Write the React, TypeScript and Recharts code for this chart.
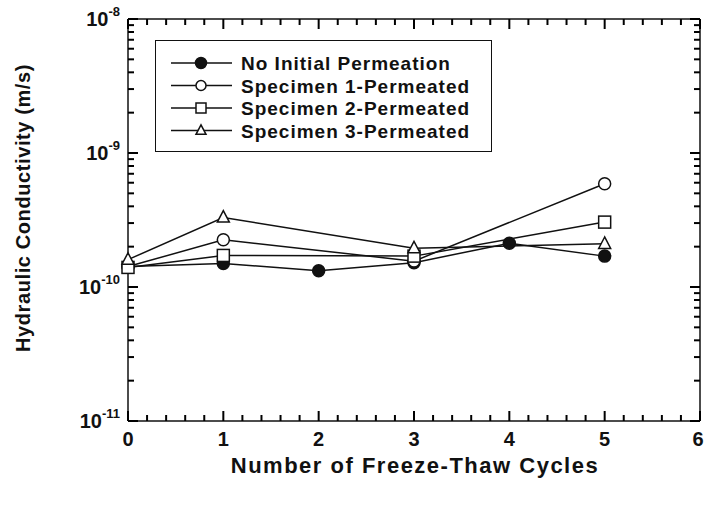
import React from 'react';
import { LineChart, Line, XAxis, YAxis, Label } from 'recharts';

const cycles = [0, 1, 2, 3, 4, 5];
const noInitial = [1.42e-10, 1.5e-10, 1.32e-10, 1.52e-10, 2.12e-10, 1.7e-10];
const specimen1 = [1.42e-10, 2.25e-10, null, 1.56e-10, null, 5.9e-10];
const specimen2 = [1.4e-10, 1.72e-10, null, 1.7e-10, null, 3.05e-10];
const specimen3 = [1.6e-10, 3.3e-10, null, 1.95e-10, null, 2.1e-10];

const seriesNames = [
  'No Initial Permeation',
  'Specimen 1-Permeated',
  'Specimen 2-Permeated',
  'Specimen 3-Permeated',
];
const seriesKeys = ['none', 's1', 's2', 's3'];
const markerKinds = ['filled', 'circle', 'square', 'triangle'];

const xTicks = [0, 1, 2, 3, 4, 5, 6];
const yTicks = [1e-11, 1e-10, 1e-9, 1e-8];

// tick marks: majors + minors (0.2 steps on x, 2..9 per decade on y)
const xAllTicks: number[] = [];
for (let i = 0; i <= 30; i++) xAllTicks.push(i / 5);
const yAllTicks: number[] = [...yTicks];
for (const d of [-11, -10, -9]) for (let m = 2; m <= 9; m++) yAllTicks.push(m * Math.pow(10, d));
yAllTicks.sort((a, b) => a - b);

const data = cycles.map((c, i) => ({
  cycle: c,
  none: noInitial[i],
  s1: specimen1[i],
  s2: specimen2[i],
  s3: specimen3[i],
}));

const FONT = '"Liberation Sans", Arial, Helvetica, sans-serif';
const INK = '#111';
const MAJOR = 10;
const MINOR = 6;

const isMajorX = (v: number) => Math.abs(v - Math.round(v)) < 1e-6;
const isMajorY = (v: number) => yTicks.some((t) => Math.abs(v / t - 1) < 1e-6);

function Marker({ kind, cx, cy, size }: { kind: string; cx: number; cy: number; size: number }) {
  const r = size / 2;
  if (kind === 'filled') return <circle cx={cx} cy={cy} r={r} fill={INK} stroke={INK} strokeWidth={1.5} />;
  if (kind === 'circle') return <circle cx={cx} cy={cy} r={r} fill="#fff" stroke={INK} strokeWidth={1.5} />;
  if (kind === 'square')
    return <rect x={cx - r} y={cy - r} width={size} height={size} fill="#fff" stroke={INK} strokeWidth={1.5} />;
  const h = size * 0.95;
  return (
    <polygon
      points={`${cx},${cy - h * 0.6} ${cx - r},${cy + h * 0.4} ${cx + r},${cy + h * 0.4}`}
      fill="#fff"
      stroke={INK}
      strokeWidth={1.5}
    />
  );
}

function makeDot(kind: string) {
  return (props: any) => {
    const { cx, cy, index } = props;
    if (cx == null || cy == null || props.value == null) return <g key={`e${index}`} />;
    return (
      <g key={`d${index}`}>
        <Marker kind={kind} cx={cx} cy={cy} size={12} />
      </g>
    );
  };
}

// tick marks point into the plot; labels only on majors of the bottom / left axes
function BottomTick(props: any) {
  const { x, y, payload } = props;
  const major = isMajorX(payload.value);
  const last = payload.value === 6;
  return (
    <g>
      <line x1={x} x2={x} y1={y} y2={y - (major ? MAJOR : MINOR)} stroke="#000" strokeWidth={2} />
      {major && (
        <text
          x={last ? x - 2 : x}
          y={y + 25}
          textAnchor="middle"
          fontFamily={FONT}
          fontSize={20}
          fontWeight="bold"
          fill={INK}
        >
          {payload.value}
        </text>
      )}
    </g>
  );
}

function TopTick(props: any) {
  const { x, y, payload } = props;
  const major = isMajorX(payload.value);
  return <line x1={x} x2={x} y1={y} y2={y + (major ? MAJOR : MINOR)} stroke="#000" strokeWidth={2} />;
}

function LeftTick(props: any) {
  const { x, y, payload } = props;
  const major = isMajorY(payload.value);
  const exp = Math.round(Math.log10(payload.value));
  return (
    <g>
      <line x1={x} x2={x + (major ? MAJOR : MINOR)} y1={y} y2={y} stroke="#000" strokeWidth={2} />
      {major && (
        <text x={x - 8} y={y + 7} textAnchor="end" fontFamily={FONT} fontSize={20} fontWeight="bold" fill={INK}>
          10
          <tspan dy={-10} fontSize={13}>
            {exp}
          </tspan>
        </text>
      )}
    </g>
  );
}

function RightTick(props: any) {
  const { x, y, payload } = props;
  const major = isMajorY(payload.value);
  return <line x1={x} x2={x - (major ? MAJOR : MINOR)} y1={y} y2={y} stroke="#000" strokeWidth={2} />;
}

function Legendbox() {
  return (
    <div
      style={{
        position: 'absolute',
        left: 155,
        top: 40,
        width: 337,
        height: 112,
        border: `1.5px solid ${INK}`,
        background: '#fff',
        boxSizing: 'border-box',
      }}
    >
      <svg width={337} height={112}>
        {seriesNames.map((name, i) => {
          const cy = 22 + i * 22.5;
          return (
            <g key={name}>
              <line x1={15} x2={76} y1={cy} y2={cy} stroke={INK} strokeWidth={1.5} />
              <Marker kind={markerKinds[i]} cx={45} cy={cy} size={i === 0 ? 11 : 10} />
              <text
                x={85}
                y={cy + 7}
                fontFamily={FONT}
                fontSize={19}
                fontWeight="bold"
                letterSpacing={1}
                fill={INK}
              >
                {name}
              </text>
            </g>
          );
        })}
      </svg>
    </div>
  );
}

export default function App() {
  const common = {
    type: 'number' as const,
    tickSize: 0,
    tickMargin: 0,
    tickLine: false,
    interval: 0 as const,
  };
  const xProps = { ...common, domain: [0, 6], dataKey: 'cycle', ticks: xAllTicks };
  const yProps = { ...common, domain: [1e-11, 1e-8], scale: 'log' as const, allowDataOverflow: true, ticks: yAllTicks };
  const frame = { stroke: INK, strokeWidth: 1.5 };
  return (
    <div style={{ position: 'absolute', left: 0, top: 0, width: 704, height: 507, background: '#fff' }}>
      <LineChart width={704} height={507} data={data} margin={{ top: 19, right: 4, bottom: 0, left: 0 }}>
        <XAxis {...xProps} xAxisId="x" orientation="bottom" tick={<BottomTick />} axisLine={frame} height={86}>
          <Label
            content={() => (
              <text
                x={415}
                y={473}
                textAnchor="middle"
                fontFamily={FONT}
                fontSize={22}
                fontWeight="bold"
                letterSpacing={1.5}
                fill={INK}
              >
                Number of Freeze-Thaw Cycles
              </text>
            )}
          />
        </XAxis>
        <XAxis {...xProps} xAxisId="xt" orientation="top" mirror tick={<TopTick />} axisLine={frame} height={1} />
        <YAxis {...yProps} yAxisId="y" orientation="left" tick={<LeftTick />} axisLine={frame} width={128}>
          <Label
            content={() => (
              <text
                x={0}
                y={0}
                transform="translate(30 208) rotate(-90)"
                textAnchor="middle"
                fontFamily={FONT}
                fontSize={20}
                fontWeight="bold"
                letterSpacing={0.6}
                fill={INK}
              >
                Hydraulic Conductivity (m/s)
              </text>
            )}
          />
        </YAxis>
        <YAxis {...yProps} yAxisId="yr" orientation="right" mirror tick={<RightTick />} axisLine={frame} width={1} />
        {seriesKeys.map((k, i) => (
          <Line
            key={k}
            xAxisId="x"
            yAxisId="y"
            dataKey={k}
            name={seriesNames[i]}
            type="linear"
            stroke={INK}
            strokeWidth={1.5}
            connectNulls
            dot={makeDot(markerKinds[i])}
            activeDot={false}
            isAnimationActive={false}
          />
        ))}
        {/* invisible copy so the top and right frame axes get a scale */}
        <Line
          xAxisId="xt"
          yAxisId="yr"
          dataKey="none"
          stroke="none"
          dot={false}
          activeDot={false}
          legendType="none"
          isAnimationActive={false}
        />
      </LineChart>
      <Legendbox />
    </div>
  );
}
